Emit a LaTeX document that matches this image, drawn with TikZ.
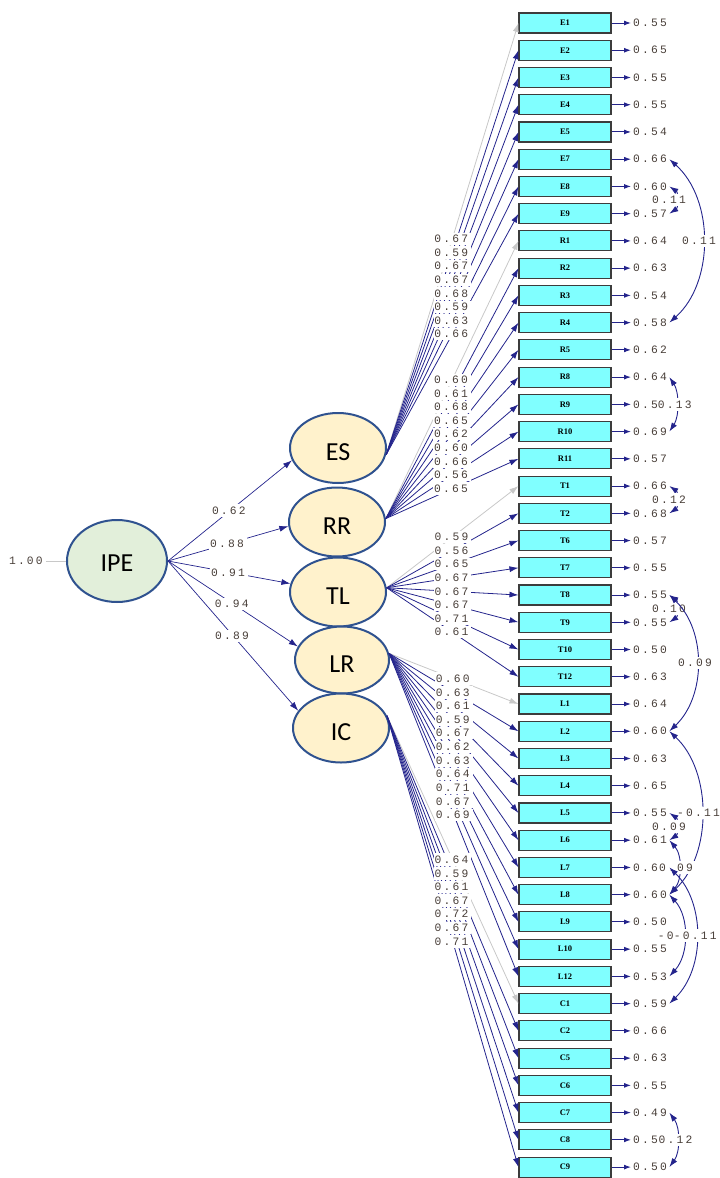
\documentclass[tikz,border=0pt]{standalone}
\usepackage{fontspec}
\usetikzlibrary{arrows.meta,calc,shapes.geometric}
\newfontfamily\monof{Liberation Mono}
\newfontfamily\serf{Liberation Serif}
\newfontfamily\calf{Carlito}
\definecolor{navyl}{RGB}{36,36,140}
\definecolor{navyh}{RGB}{0,0,128}
\definecolor{grayl}{RGB}{200,200,200}
\definecolor{numc}{RGB}{72,62,56}
\definecolor{boxc}{RGB}{128,255,255}
\definecolor{boxd}{RGB}{60,60,60}
\definecolor{latf}{RGB}{255,242,204}
\definecolor{ipef}{RGB}{226,239,218}
\definecolor{bord}{RGB}{47,82,143}
\newlength\lsp \setlength\lsp{2.2pt}
\def\lspc#1{\lspx#1\relax}
\def\lspx#1{\ifx#1\relax\else#1\kern\lsp\expandafter\lspx\fi}
\def\lspv#1{\expandafter\lspc\expandafter{#1}}
\tikzset{
  obs/.style={draw=boxd, fill=boxc, line width=1.1pt, minimum width=92pt, minimum height=20pt, inner sep=0pt, font=\serf\bfseries\fontsize{8.5}{8.5}\selectfont},
  val/.style={anchor=west, inner sep=0pt, text=numc, font=\monof\fontsize{11.3}{11.3}\selectfont},
  lab/.style={fill=white, inner xsep=0.8pt, inner ysep=2.4pt, text=numc, font=\monof\fontsize{11.3}{11.3}\selectfont},
  lat/.style={ellipse, draw=bord, line width=2pt, fill=latf, minimum width=96pt, minimum height=70pt, inner sep=0pt, text height=25pt, text depth=0pt, font=\calf\fontsize{26}{26}\selectfont},
  load/.style={line width=0.8pt, -{Latex[length=9pt,width=6pt]}},
  err/.style={draw=navyl, line width=1pt, shorten >=2pt, -{Latex[length=7pt,width=5pt]}},
  cov/.style={draw=navyl, line width=0.9pt, {Latex[length=9pt,width=6pt]}-{Latex[length=9pt,width=6pt]}},
  ipa/.style={draw=navyl, line width=0.7pt, -{Latex[length=9pt,width=6pt]}},
}
\def\allobs{E1/0.55,E2/0.65,E3/0.55,E4/0.55,E5/0.54,E7/0.66,E8/0.60,E9/0.57,R1/0.64,R2/0.63,R3/0.54,R4/0.58,R5/0.62,R8/0.64,R9/0.50,R10/0.69,R11/0.57,T1/0.66,T2/0.68,T6/0.57,T7/0.55,T8/0.55,T9/0.55,T10/0.50,T12/0.63,L1/0.64,L2/0.60,L3/0.63,L4/0.65,L5/0.55,L6/0.61,L7/0.60,L8/0.60,L9/0.50,L10/0.55,L12/0.53,C1/0.59,C2/0.66,C5/0.63,C6/0.55,C7/0.49,C8/0.50,C9/0.50}
\def\ESlist{E1/0.67,E2/0.59,E3/0.67,E4/0.67,E5/0.68,E7/0.59,E8/0.63,E9/0.66}
\def\RRlist{R1/0.60,R2/0.61,R3/0.68,R4/0.65,R5/0.62,R8/0.60,R9/0.66,R10/0.56,R11/0.65}
\def\TLlist{T1/0.59,T2/0.56,T6/0.65,T7/0.67,T8/0.67,T9/0.67,T10/0.71,T12/0.61}
\def\LRlist{L1/0.60,L2/0.63,L3/0.61,L4/0.59,L5/0.67,L6/0.62,L7/0.63,L8/0.64,L9/0.71,L10/0.67,L12/0.69}
\def\IClist{C1/0.64,C2/0.59,C5/0.61,C6/0.67,C7/0.72,C8/0.67,C9/0.71}
\newcommand\fanlines[2]{\foreach \nm/\ld [count=\k] in #2 {\ifnum\k=1 \def\lc{grayl}\else\def\lc{navyl}\fi \draw[load,draw=\lc] (#1) -- (\nm.west);}}
\newcommand\fanlabels[2]{\foreach \nm/\ld in #2 {\node[lab] at ($(#1)!0.5!(\nm.west)$) {\lspv\ld};}}
\begin{document}
\begin{tikzpicture}[x=1pt,y=-1pt]
\useasboundingbox (0,0) rectangle (720,1178);
% observed variables and error values
\foreach \nm/\ev [count=\i from 0] in \allobs {
  \node[obs] (\nm) at (565,{23+27.24*\i}) {\nm};
  \node[val] (v\nm) at (633,{23+27.24*\i}) {\lspv\ev};
  \draw[err] (\nm.east) -- (v\nm.west);
}
% latent variables
\node[lat] (ES) at (338,448) {ES};
\node[lat, minimum height=69pt] (RR) at (337,522) {RR};
\node[lat, minimum height=69pt] (TL) at (338,592) {TL};
\node[lat, minimum width=94pt, minimum height=67pt] (LR) at (342,660) {LR};
\node[lat, minimum height=69pt] (IC) at (341,728) {IC};
\node[lat, fill=ipef, minimum width=100pt, minimum height=82pt, text height=21pt] (IPE) at (117,561) {IPE};
% variance of IPE
\node[lab] (one) at (27,561) {\lspc{1.00}};
\draw[draw=grayl, line width=0.8pt] (one.east) -- (IPE.west);
% second order paths
\draw[ipa] (IPE.east) -- (ES.195) node[lab,pos=.5] {\lspc{0.62}};
\draw[ipa] (IPE.east) -- (RR.185) node[lab,pos=.5] {\lspc{0.88}};
\draw[ipa] (IPE.east) -- (TL.170) node[lab,pos=.5] {\lspc{0.91}};
\draw[ipa] (IPE.east) -- (LR.163) node[lab,pos=.5] {\lspc{0.94}};
\draw[ipa] (IPE.east) -- (IC.158) node[lab,pos=.5] {\lspc{0.89}};
% loadings
\fanlines{ES.-8}{\ESlist}
\fanlines{RR.4}{\RRlist}
\fanlines{TL.5}{\TLlist}
\fanlines{LR.8}{\LRlist}
\fanlines{IC.15}{\IClist}
\fanlabels{ES.-8}{\ESlist}
\fanlabels{RR.4}{\RRlist}
\fanlabels{TL.5}{\TLlist}
\fanlabels{LR.8}{\LRlist}
\fanlabels{IC.15}{\IClist}
% error covariances
\draw[cov] (vE7.east) .. controls +(45,40) and +(45,-40) .. (vR4.east) node[lab,pos=.5,xshift=-3pt] {\lspc{0.11}};
\draw[cov] (vE8.east) .. controls +(9,6) and +(9,-6) .. (vE9.east) node[lab,pos=.5,xshift=-6pt] {\lspc{0.11}};
\draw[cov] (vR8.east) .. controls +(10,15) and +(10,-15) .. (vR10.east) node[lab,pos=.5,xshift=-1pt] {\lspc{0.13}};
\draw[cov] (vT1.east) .. controls +(9,6) and +(9,-6) .. (vT2.east) node[lab,pos=.5,xshift=-6pt] {\lspc{0.12}};
\draw[cov] (vT8.east) .. controls +(9,6) and +(9,-6) .. (vT9.east) node[lab,pos=.5,xshift=-6pt] {\lspc{0.10}};
\draw[cov] (vT8.east) .. controls +(37,35) and +(37,-35) .. (vL2.east) node[lab,pos=.5,xshift=-1pt] {\lspc{0.09}};
\draw[cov] (vL2.east) .. controls +(43,40) and +(43,-40) .. (vL8.east) node[lab,pos=.5,xshift=-2pt] {\lspc{-0.11}};
\draw[cov] (vL5.east) .. controls +(9,6) and +(9,-6) .. (vL6.east) node[lab,pos=.5,xshift=-6pt] {\lspc{0.09}};
\draw[cov] (vL6.east) .. controls +(13,15) and +(13,-15) .. (vL8.east) node[lab,pos=.5,xshift=-2pt] {\lspc{0.09}};
\draw[cov] (vL8.east) .. controls +(20,22) and +(20,-22) .. (vL12.east) node[lab,pos=.5,xshift=-4pt] {\lspc{-0.11}};
\draw[cov] (vL7.east) .. controls +(36,35) and +(36,-35) .. (vC1.east) node[lab,pos=.5] {\lspc{-0.11}};
\draw[cov] (vC7.east) .. controls +(11,15) and +(11,-15) .. (vC9.east) node[lab,pos=.5,xshift=-1pt] {\lspc{0.12}};
\end{tikzpicture}
\end{document}
